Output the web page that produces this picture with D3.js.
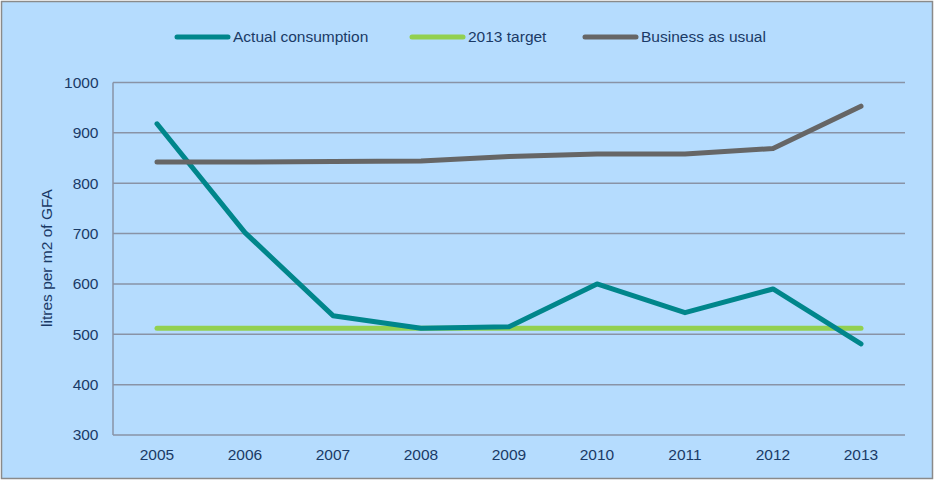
<!DOCTYPE html>
<html>
<head>
<meta charset="utf-8">
<script src="https://cdn.jsdelivr.net/npm/d3@7"></script>
<style>
  body { margin: 0; background: #fff; }
  svg { display: block; font-family: "Liberation Sans", Arial, sans-serif; }
</style>
</head>
<body>
<svg id="chart"></svg>
<script>
const years = ["2005", "2006", "2007", "2008", "2009", "2010", "2011", "2012", "2013"];
const actualConsumption = [918, 702, 537, 512, 515, 600, 543, 590, 481];
const target2013 = [512, 512, 512, 512, 512, 512, 512, 512, 512];
const businessAsUsual = [842, 842, 843, 844, 853, 858, 858, 869, 953];
const yTicks = [300, 400, 500, 600, 700, 800, 900, 1000];

const series = [
    { name: "Actual consumption", values: actualConsumption, color: "#00868b" },
    { name: "2013 target", values: target2013, color: "#92d050" },
    { name: "Business as usual", values: businessAsUsual, color: "#666666" }
];

const width = 934;
const height = 480;
const margin = { top: 82.5, right: 29, bottom: 45, left: 113 };
const textColor = "#1a3a66";

const svg = d3.select("#chart").attr("width", width).attr("height", height);

// background + border
svg.append("rect")
    .attr("x", 1.5).attr("y", 1.5)
    .attr("width", width - 3).attr("height", height - 3)
    .attr("fill", "#b5dcfe")
    .attr("stroke", "#8a8a8a")
    .attr("stroke-width", 1.5);

const x = d3.scaleBand()
    .domain(years)
    .range([margin.left, width - margin.right]);

const y = d3.scaleLinear()
    .domain([300, 1000])
    .range([height - margin.bottom, margin.top]);

// gridlines
svg.append("g")
    .selectAll("line")
    .data(yTicks)
    .join("line")
    .attr("x1", margin.left)
    .attr("x2", width - margin.right)
    .attr("y1", d => y(d))
    .attr("y2", d => y(d))
    .attr("stroke", "#8993a6")
    .attr("stroke-width", 1.5);

// y axis line
svg.append("line")
    .attr("x1", margin.left).attr("x2", margin.left)
    .attr("y1", y(1000)).attr("y2", y(300))
    .attr("stroke", "#8993a6")
    .attr("stroke-width", 1.5);

// y tick labels
svg.append("g")
    .selectAll("text")
    .data(yTicks)
    .join("text")
    .attr("x", margin.left - 14.5)
    .attr("y", d => y(d))
    .attr("dy", "0.35em")
    .attr("text-anchor", "end")
    .attr("fill", textColor)
    .style("font-size", "15.5px")
    .text(d => d);

// x tick labels
svg.append("g")
    .selectAll("text")
    .data(years)
    .join("text")
    .attr("x", d => x(d) + x.bandwidth() / 2)
    .attr("y", height - margin.bottom + 25)
    .attr("text-anchor", "middle")
    .attr("fill", textColor)
    .style("font-size", "15.5px")
    .text(d => d);

// y axis title
svg.append("text")
    .attr("transform", `translate(52,258) rotate(-90)`)
    .attr("text-anchor", "middle")
    .attr("fill", textColor)
    .style("font-size", "15.5px")
    .text("litres per m2 of GFA");

const line = d3.line()
    .x((d, i) => x(years[i]) + x.bandwidth() / 2)
    .y(d => y(d));

svg.append("g")
    .selectAll("path")
    .data([series[1], series[0], series[2]])
    .join("path")
    .attr("d", d => line(d.values))
    .attr("fill", "none")
    .attr("stroke", d => d.color)
    .attr("stroke-width", 5)
    .attr("stroke-linecap", "round")
    .attr("stroke-linejoin", "round");

// legend
const legendX = [177, 412, 585];
const legend = svg.append("g")
    .selectAll("g")
    .data(series)
    .join("g")
    .attr("transform", (d, i) => `translate(${legendX[i]},37)`);

legend.append("line")
    .attr("x1", 0).attr("x2", 51)
    .attr("stroke", d => d.color)
    .attr("stroke-width", 5)
    .attr("stroke-linecap", "round");

legend.append("text")
    .attr("x", 56)
    .attr("dy", "0.35em")
    .attr("fill", textColor)
    .style("font-size", "15.5px")
    .text(d => d.name);
</script>
</body>
</html>
